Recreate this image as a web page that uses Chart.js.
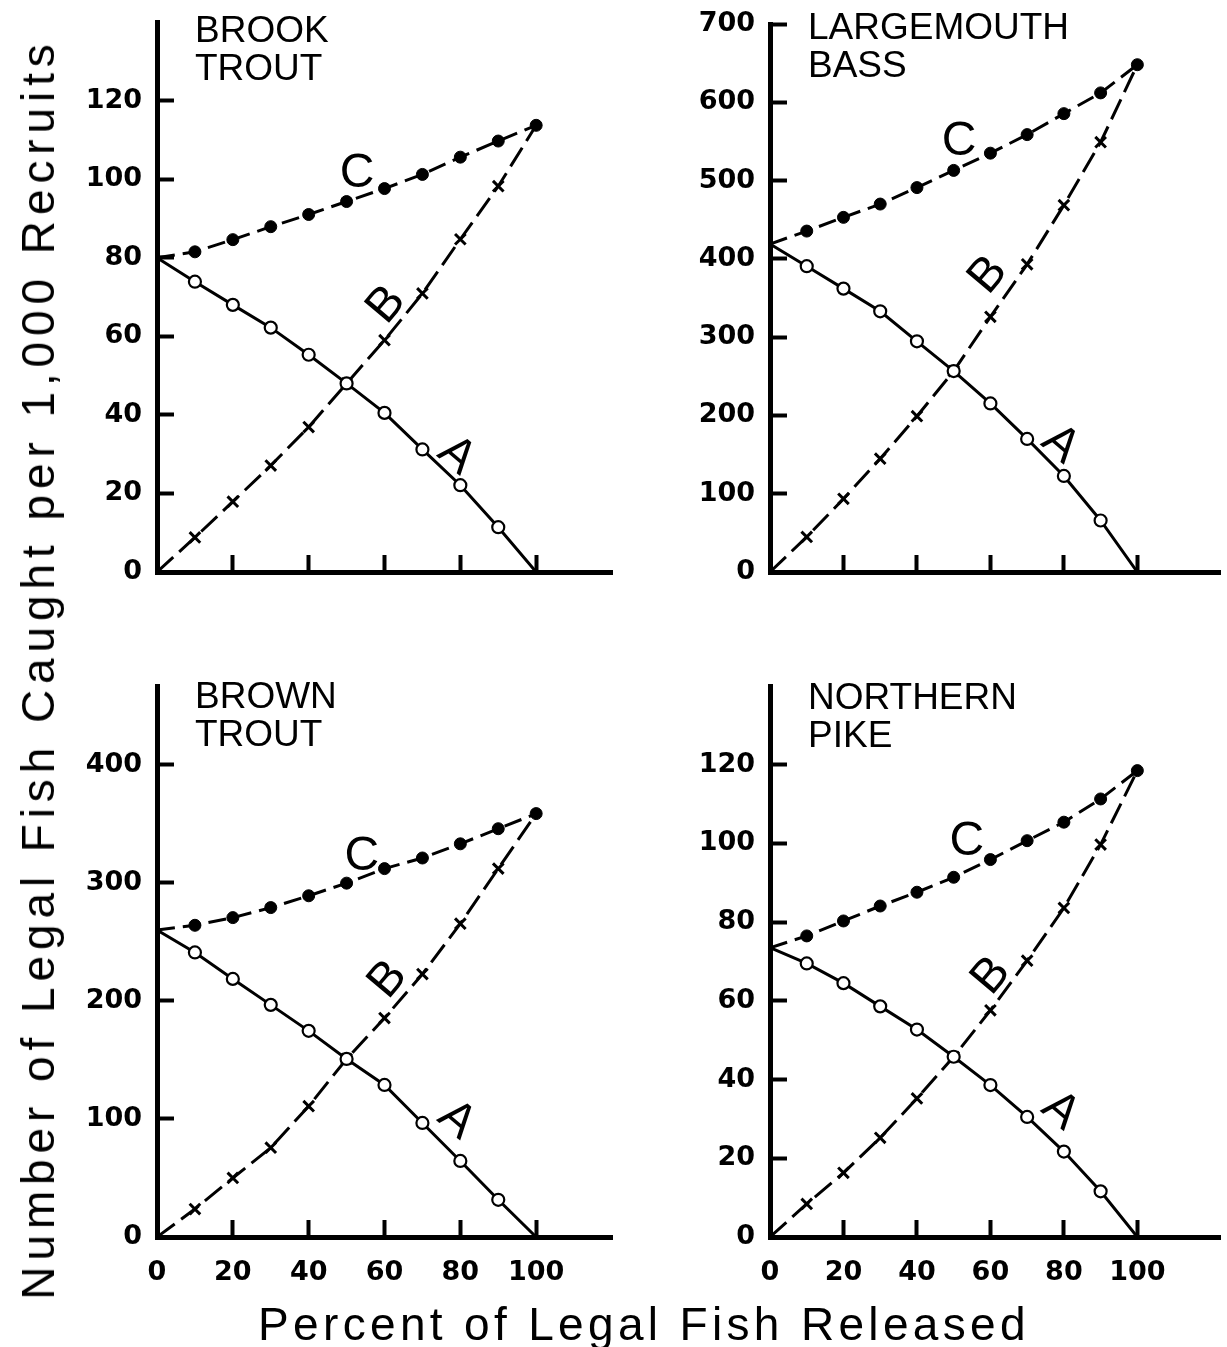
<!DOCTYPE html>
<html>
<head>
<meta charset="utf-8">
<script src="https://cdn.jsdelivr.net/npm/chart.js@4.4.1/dist/chart.umd.min.js"></script>
<style>
  html, body { margin: 0; padding: 0; background: #fff; }
  body { width: 1227px; height: 1347px; position: relative; overflow: hidden; }
  .pane { position: absolute; }
  .title { position: absolute; white-space: nowrap; font-family: "Liberation Sans", Arial, sans-serif; font-size: 46px; color: #000; line-height: 1; }
</style>
</head>
<body>
<div class="pane" style="left:0;top:0;width:630px;height:620px"><canvas id="c1" width="630" height="620"></canvas></div>
<div class="pane" style="left:630px;top:0;width:597px;height:620px"><canvas id="c2" width="597" height="620"></canvas></div>
<div class="pane" style="left:0;top:620px;width:630px;height:727px"><canvas id="c3" width="630" height="727"></canvas></div>
<div class="pane" style="left:630px;top:620px;width:597px;height:727px"><canvas id="c4" width="597" height="727"></canvas></div>
<div id="ytitle" class="title">Number of Legal Fish Caught per 1,000 Recruits</div>
<div id="xtitle" class="title">Percent of Legal Fish Released</div>
<script>
// ---- data ----
const releasedPct = [0, 10, 20, 30, 40, 50, 60, 70, 80, 90, 100];

const brookA = [80, 73.9, 68, 62.2, 55.3, 48, 40.5, 31.2, 22.1, 11.4, 0];
const brookB = [0, 8.8, 17.9, 27.1, 36.9, 48, 59, 70.9, 84.7, 98.2, 113.7];
const brookC = [80, 81.5, 84.6, 87.9, 91, 94.3, 97.6, 101.2, 105.6, 109.7, 113.7];

const bassA = [419, 390.6, 362, 333, 294.7, 256.7, 215.3, 170, 122.7, 65.8, 0];
const bassB = [0, 44.8, 93.5, 144.7, 199, 256.7, 326, 393, 468.6, 549, 648];
const bassC = [419, 435.5, 453, 470, 491, 513, 535, 558.7, 585.5, 612, 648];

const brownA = [260, 241, 218.6, 196.6, 174.6, 150.8, 128.8, 96.6, 64.4, 31.5, 0];
const brownB = [0, 23.7, 50, 75.6, 110.8, 150.8, 185.4, 222.7, 265.4, 312, 358.6];
const brownC = [260, 264, 270.5, 279, 289, 299.7, 312, 321, 333, 345.8, 358.6];

const pikeA = [73.5, 69.5, 64.5, 58.6, 52.7, 45.8, 38.6, 30.5, 21.7, 11.6, 0];
const pikeB = [0, 8.4, 16.3, 25.2, 35.2, 45.8, 57.6, 70.2, 83.6, 99.7, 118.5];
const pikeC = [73.5, 76.5, 80.3, 84.1, 87.6, 91.4, 95.9, 100.7, 105.4, 111.3, 118.5];

const yTicksBrook = [0, 20, 40, 60, 80, 100, 120];
const yTicksBass = [0, 100, 200, 300, 400, 500, 600, 700];
const yTicksBrown = [0, 100, 200, 300, 400];
const yTicksPike = [0, 20, 40, 60, 80, 100, 120];
const xTicks = [0, 20, 40, 60, 80, 100];

const speciesBrook = ['BROOK', 'TROUT'];
const speciesBass = ['LARGEMOUTH', 'BASS'];
const speciesBrown = ['BROWN', 'TROUT'];
const speciesPike = ['NORTHERN', 'PIKE'];

// ---- helpers ----
const pts = arr => releasedPct.map((x, i) => ({ x: x, y: arr[i] }));
const last = releasedPct.length - 1;

function makeAnnot(cfg) {
  return {
    id: 'annot',
    afterDraw(chart) {
      const ctx = chart.ctx, xs = chart.scales.x, ys = chart.scales.y, a = chart.chartArea;
      ctx.save();
      ctx.fillStyle = '#000';
      ctx.font = '37px "Liberation Sans", Arial, sans-serif';
      ctx.textAlign = 'left';
      ctx.textBaseline = 'alphabetic';
      cfg.species.forEach((s, i) => ctx.fillText(s, a.left + 38, a.top + cfg.titleY + i * 38));
      ctx.font = '48px "Liberation Sans", Arial, sans-serif';
      ctx.textAlign = 'center';
      ctx.textBaseline = 'middle';
      cfg.curveLabels.forEach(l => {
        ctx.save();
        ctx.translate(xs.getPixelForValue(l.x), ys.getPixelForValue(l.y));
        ctx.rotate(l.rot);
        ctx.fillText(l.t, 0, 0);
        ctx.restore();
      });
      ctx.restore();
    }
  };
}

function makeChart(id, A, B, C, cfg) {
  const tickFont = { family: '"DejaVu Sans", sans-serif', size: 27, weight: 'bold' };
  const inwardTicks = { display: true, drawOnChartArea: false, drawTicks: true, tickLength: -17, tickWidth: 4, tickColor: '#000' };
  new Chart(document.getElementById(id), {
    type: 'line',
    data: {
      datasets: [
        {
          label: 'A', data: pts(A), borderColor: '#000', borderWidth: 3, tension: 0,
          pointStyle: 'circle',
          pointRadius: c => (c.dataIndex === 0 || c.dataIndex === last) ? 0 : 6,
          pointBackgroundColor: '#fff', pointBorderColor: '#000', pointBorderWidth: 2.2
        },
        {
          label: 'C', data: pts(C), borderColor: '#000', borderWidth: 3, tension: 0,
          borderDash: [18, 8],
          pointStyle: 'circle',
          pointRadius: c => c.dataIndex === 0 ? 0 : 6,
          pointBackgroundColor: '#000', pointBorderColor: '#000', pointBorderWidth: 1
        },
        {
          label: 'B', data: pts(B), borderColor: '#000', borderWidth: 3, tension: 0,
          borderDash: [22, 8],
          pointStyle: 'crossRot',
          pointRadius: c => (c.dataIndex === 0 || c.dataIndex === last) ? 0 : 7.5,
          pointBackgroundColor: '#000', pointBorderColor: '#000', pointBorderWidth: 3
        }
      ]
    },
    options: {
      responsive: false,
      animation: false,
      devicePixelRatio: 1,
      layout: { padding: { top: cfg.padTop, right: cfg.padRight, left: 0, bottom: 0 } },
      plugins: {
        legend: { display: false },
        tooltip: { enabled: false }
      },
      scales: {
        x: {
          type: 'linear', min: 0, max: cfg.xMax,
          grid: inwardTicks,
          border: { display: true, color: '#000', width: 5 },
          afterBuildTicks: s => { s.ticks = xTicks.map(v => ({ value: v })); },
          afterFit: s => { s.height = cfg.xHeight; s.paddingLeft = 0; s.paddingRight = 0; },
          ticks: { display: cfg.showX, color: '#000', font: tickFont, padding: 37, autoSkip: false, maxRotation: 0 }
        },
        y: {
          type: 'linear', min: 0, max: cfg.yMax,
          grid: inwardTicks,
          border: { display: true, color: '#000', width: 5 },
          afterBuildTicks: s => { s.ticks = cfg.yTicks.map(v => ({ value: v })); },
          afterFit: s => { s.width = cfg.yWidth; s.paddingTop = 0; s.paddingBottom = 0; },
          ticks: { color: '#000', font: tickFont, padding: 32, autoSkip: false }
        }
      }
    },
    plugins: [makeAnnot(cfg)]
  });
}

makeChart('c1', brookA, brookB, brookC, {
  xMax: 120, yMax: 140, yTicks: yTicksBrook, species: speciesBrook, titleY: 20,
  padTop: 22, padRight: 18, xHeight: 48, yWidth: 157, showX: false,
  curveLabels: [{ t: 'C', x: 52.8, y: 101.3, rot: 0 }, { t: 'B', x: 60.6, y: 68, rot: -0.87 }, { t: 'A', x: 79, y: 29.6, rot: 0.7 }]
});
makeChart('c2', bassA, bassB, bassC, {
  xMax: 122.5, yMax: 700, yTicks: yTicksBass, species: speciesBass, titleY: 15,
  padTop: 24, padRight: 0, xHeight: 48, yWidth: 140, showX: false,
  curveLabels: [{ t: 'C', x: 51.5, y: 549, rot: 0 }, { t: 'B', x: 59.5, y: 379, rot: -0.87 }, { t: 'A', x: 79, y: 163, rot: 0.7 }]
});
makeChart('c3', brownA, brownB, brownC, {
  xMax: 120, yMax: 466.67, yTicks: yTicksBrown, species: speciesBrown, titleY: 22,
  padTop: 66, padRight: 18, xHeight: 110, yWidth: 157, showX: true,
  curveLabels: [{ t: 'C', x: 54, y: 322, rot: 0 }, { t: 'B', x: 61, y: 218, rot: -0.87 }, { t: 'A', x: 79, y: 99, rot: 0.7 }]
});
makeChart('c4', pikeA, pikeB, pikeC, {
  xMax: 122.5, yMax: 140, yTicks: yTicksPike, species: speciesPike, titleY: 23,
  padTop: 66, padRight: 0, xHeight: 110, yWidth: 140, showX: true,
  curveLabels: [{ t: 'C', x: 53.6, y: 100.5, rot: 0 }, { t: 'B', x: 60.3, y: 66.3, rot: -0.87 }, { t: 'A', x: 79, y: 32, rot: 0.7 }]
});

// ---- axis titles (fit letter spacing to the reference span) ----
function fitTitle(el, target, cx, cy, rotate) {
  const n = el.textContent.length;
  const w0 = el.offsetWidth;
  el.style.letterSpacing = ((target - w0) / n) + 'px';
  el.style.left = cx + 'px';
  el.style.top = cy + 'px';
  el.style.transform = 'translate(-50%, -50%)' + (rotate ? ' rotate(-90deg)' : '');
}
fitTitle(document.getElementById('ytitle'), 1262, 38, 669, true);
fitTitle(document.getElementById('xtitle'), 772, 644, 1324, false);
</script>
</body>
</html>
